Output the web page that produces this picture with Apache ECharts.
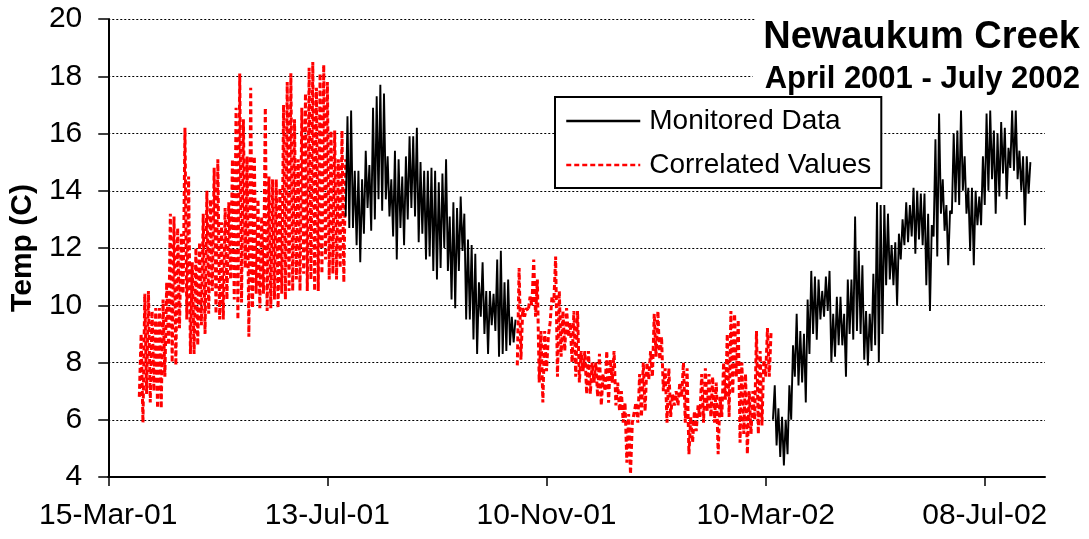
<!DOCTYPE html>
<html>
<head>
<meta charset="utf-8">
<script src="https://cdn.jsdelivr.net/npm/echarts@6/dist/echarts.min.js"></script>
<style>html,body{margin:0;padding:0;background:#fff}#c{width:1089px;height:539px}</style>
</head>
<body>
<div id="c"></div>
<script>
// ---------- data ----------
const xTickLabels = ['15-Mar-01', '13-Jul-01', '10-Nov-01', '10-Mar-02', '08-Jul-02'];
const xAxisEnd = '10-Aug-02';
const yMin = 4, yMax = 20, yStep = 2;
const STEP_DAYS = 2; // one low/high pair read every 2 days

// Correlated values, 1 Apr 2001 - 23 Jul 2001
const correlated1Start = '01-Apr-01';
const correlated1High = [9.0, 10.4, 10.5, 9.8, 9.9, 9.9, 10.2, 10.8, 13.2, 13.1,
  12.7, 12.5, 16.2, 14.5, 11.5, 12.0, 12.2, 13.2, 14.0, 13.7,
  14.8, 15.1, 12.9, 13.4, 13.6, 15.1, 16.9, 18.1, 16.5, 15.2,
  17.6, 15.2, 13.7, 13.1, 16.9, 14.5, 14.4, 14.4, 14.1, 17.0,
  17.8, 18.1, 16.5, 15.1, 16.9, 17.4, 18.3, 18.5, 17.6, 18.1,
  18.4, 17.8, 16.1, 16.1, 15.1, 16.1, 15.1];
const correlated1Low = [6.8, 5.9, 6.9, 6.6, 7.0, 6.4, 6.4, 7.5, 8.6, 8.0,
  7.9, 9.2, 10.4, 9.5, 8.3, 8.3, 8.6, 9.3, 9.0, 9.7,
  10.5, 9.7, 9.5, 9.5, 10.2, 10.9, 10.2, 9.5, 10.1, 11.3,
  8.9, 9.9, 10.4, 9.9, 10.4, 9.8, 9.9, 10.2, 9.9, 10.4,
  10.2, 10.5, 10.5, 10.9, 10.5, 11.1, 10.5, 10.9, 10.5, 10.5,
  11.1, 11.6, 10.9, 11.1, 10.9, 11.3, 10.8];

// Monitored data, 23 Jul 2001 - 23 Oct 2001
const monitored1Start = '23-Jul-01';
const monitored1High = [16.6, 16.8, 14.7, 14.7, 14.4, 15.4, 14.9, 16.9, 17.3, 17.7,
  17.4, 15.2, 14.4, 15.4, 15.1, 14.5, 15.2, 15.9, 15.9, 16.2,
  15.0, 14.7, 14.7, 14.8, 14.7, 14.3, 14.6, 15.1, 13.1, 13.6,
  13.4, 13.8, 13.2, 12.3, 12.1, 11.8, 10.8, 11.5, 10.5, 10.5,
  10.4, 11.6, 11.9, 10.8, 10.9, 9.6, 9.5];
const monitored1Low = [13.1, 12.7, 12.7, 12.1, 11.5, 12.5, 13.4, 12.6, 13.0, 13.7,
  13.3, 13.7, 13.1, 12.4, 11.6, 12.7, 12.1, 13.0, 13.4, 13.1,
  12.2, 12.5, 11.6, 11.7, 11.2, 10.9, 11.3, 12.0, 11.2, 10.2,
  9.9, 11.2, 11.9, 9.5, 9.5, 8.8, 8.3, 9.6, 9.0, 8.3,
  9.3, 9.1, 8.2, 8.3, 8.4, 8.6, 8.7];

// Correlated values, 25 Oct 2001 - 12 Mar 2002
const correlated2Start = '25-Oct-01';
const correlated2High = [11.3, 9.9, 9.9, 10.3, 11.6, 10.9, 9.1, 9.1, 8.9, 10.3,
  11.7, 10.5, 9.8, 9.9, 9.4, 9.8, 9.8, 8.4, 8.4, 8.4,
  8.0, 8.0, 8.3, 7.6, 8.4, 8.1, 8.4, 7.3, 7.0, 6.6,
  6.2, 5.9, 6.6, 7.6, 8.0, 8.0, 8.4, 9.7, 9.8, 8.9,
  7.8, 7.8, 6.9, 7.0, 7.3, 8.0, 7.8, 6.1, 6.3, 6.5,
  7.6, 7.8, 7.6, 7.5, 7.3, 6.8, 8.0, 9.0, 9.8, 9.7,
  9.5, 8.0, 7.6, 7.0, 7.0, 9.1, 8.4, 8.1, 9.2, 9.1];
const correlated2Low = [7.9, 8.1, 9.6, 9.8, 10.0, 9.6, 7.3, 6.6, 7.7, 9.4,
  10.1, 7.5, 8.2, 8.4, 8.9, 8.0, 7.5, 7.3, 7.7, 6.9,
  6.9, 7.3, 6.8, 6.5, 7.0, 6.6, 7.3, 6.5, 6.3, 5.9,
  4.5, 4.1, 5.9, 5.9, 6.1, 6.3, 7.4, 7.5, 8.2, 8.1,
  7.0, 5.9, 6.1, 6.5, 6.5, 6.8, 5.9, 4.8, 5.2, 5.6,
  6.1, 5.9, 6.3, 6.1, 5.9, 4.8, 6.1, 6.7, 6.1, 6.9,
  7.5, 5.2, 5.5, 4.8, 5.5, 6.0, 5.5, 5.8, 7.5, 7.5];

// Monitored data, 14 Mar 2002 - 1 Aug 2002
const monitored2Start = '14-Mar-02';
const monitored2High = [7.2, 6.4, 6.1, 6.0, 7.2, 8.6, 9.7, 9.1, 9.0, 10.2,
  11.2, 11.0, 10.9, 10.5, 11.0, 11.2, 9.7, 10.3, 10.3, 9.7,
  10.9, 10.9, 13.1, 11.9, 11.4, 9.8, 9.7, 11.1, 13.6, 13.5,
  13.5, 13.2, 12.1, 12.2, 12.5, 13.0, 13.6, 13.5, 14.1, 14.0,
  13.9, 13.9, 13.2, 12.8, 15.8, 16.7, 14.4, 13.5, 13.3, 16.0,
  16.1, 16.8, 15.2, 14.1, 14.1, 14.0, 13.8, 15.2, 16.7, 16.8,
  16.1, 16.0, 16.4, 16.2, 15.5, 16.8, 16.8, 15.4, 15.2, 15.2, 15.0];
const monitored2Low = [6.0, 5.1, 4.7, 4.4, 4.8, 6.0, 7.5, 7.2, 7.3, 6.6,
  8.3, 9.0, 8.8, 9.5, 9.6, 9.8, 8.0, 8.2, 8.6, 8.6,
  7.5, 9.0, 8.8, 9.1, 9.0, 8.1, 7.9, 8.4, 8.6, 8.0,
  9.0, 10.7, 10.9, 10.7, 10.0, 11.6, 12.1, 12.2, 12.4, 11.8,
  12.3, 12.1, 10.7, 9.8, 12.4, 11.7, 13.2, 12.6, 11.4, 13.2,
  13.6, 13.5, 14.0, 13.2, 11.9, 11.4, 12.8, 12.8, 13.5, 14.0,
  14.4, 13.2, 13.8, 14.6, 13.7, 14.8, 14.7, 14.4, 14.0, 12.8, 13.9];

const titleText = 'Newaukum Creek';
const subtitleText = 'April 2001 - July 2002';
const yAxisTitle = 'Temp (C)';
const seriesNames = ['Monitored Data', 'Correlated Values'];

// ---------- helpers ----------
const MONTHS = {Jan:0,Feb:1,Mar:2,Apr:3,May:4,Jun:5,Jul:6,Aug:7,Sep:8,Oct:9,Nov:10,Dec:11};
function parseDMY(s) { const p = s.split('-'); return Date.UTC(2000 + Number(p[2]), MONTHS[p[1]], Number(p[0])); }
const ORIGIN = parseDMY(xTickLabels[0]);
const toDay = s => Math.round((parseDMY(s) - ORIGIN) / 86400000);
function build(startStr, low, high) {
  const d0 = toDay(startStr);
  const pts = [];
  for (let i = 0; i < low.length; i++) {
    pts.push([d0 + i * STEP_DAYS, low[i]]);
    pts.push([d0 + i * STEP_DAYS + STEP_DAYS / 2, high[i]]);
  }
  return pts;
}
const tickDays = xTickLabels.map(toDay);
const labelOf = {};
tickDays.forEach((d, i) => { labelOf[d] = xTickLabels[i]; });

const FONT = '"Liberation Sans", Arial, Helvetica, sans-serif';
const black = { color: '#000000', width: 1.9 };
const red = { color: '#ff0000', width: 3, type: [5, 3] };

const chart = echarts.init(document.getElementById('c'), null, { renderer: 'canvas' });
chart.setOption({
  animation: false,
  backgroundColor: '#ffffff',
  textStyle: { fontFamily: FONT },
  grid: { left: 107, right: 44, top: 19, bottom: 62 },
  title: [
    {
      text: titleText,
      right: 5,
      top: 14,
      padding: [5, 4, 2, 8],
      backgroundColor: '#ffffff',
      z: 5,
      textStyle: { fontFamily: FONT, fontSize: 38, fontWeight: 'bold', color: '#000' }
    },
    {
      text: subtitleText,
      right: 5,
      top: 60,
      padding: [4, 4, 1, 12],
      backgroundColor: '#ffffff',
      z: 5,
      textStyle: { fontFamily: FONT, fontSize: 31, fontWeight: 'bold', color: '#000' }
    }
  ],
  legend: {
    data: seriesNames,
    orient: 'vertical',
    left: 555,
    top: 97,
    z: 10,
    itemWidth: 74,
    itemHeight: 14,
    itemGap: 8,
    padding: [6, 10, 5, 10],
    borderColor: '#000',
    borderWidth: 2,
    borderRadius: 0,
    backgroundColor: '#ffffff',
    selectedMode: false,
    itemStyle: { opacity: 0, borderWidth: 0 },
    lineStyle: { width: 2.5 },
    textStyle: { fontFamily: FONT, fontSize: 28, color: '#000', lineHeight: 36, padding: [0, 0, 0, 4] }
  },
  xAxis: {
    type: 'value',
    min: 0,
    max: toDay(xAxisEnd),
    interval: 120,
    axisLine: { show: true, onZero: false, lineStyle: { color: '#000', width: 2 } },
    axisTick: { show: true, length: 9, customValues: tickDays, lineStyle: { color: '#000', width: 1.5 } },
    axisLabel: { customValues: tickDays, formatter: v => labelOf[v] || '', fontSize: 30, color: '#000', margin: 24, fontFamily: FONT },
    splitLine: { show: false }
  },
  yAxis: {
    type: 'value',
    min: yMin,
    max: yMax,
    interval: yStep,
    name: yAxisTitle,
    nameLocation: 'middle',
    nameGap: 58,
    nameTextStyle: { fontFamily: FONT, fontSize: 30, fontWeight: 'bold', color: '#000' },
    axisLine: { show: true, lineStyle: { color: '#000', width: 2 } },
    axisTick: { show: true, length: 10, lineStyle: { color: '#000', width: 1.5 } },
    axisLabel: { fontSize: 30, color: '#000', margin: 26, fontFamily: FONT },
    splitLine: { show: true, lineStyle: { color: '#000', width: 1, type: [2, 2] } }
  },
  series: [
    { name: seriesNames[1], type: 'line', symbol: 'none', data: build(correlated1Start, correlated1Low, correlated1High), lineStyle: red, itemStyle: { color: '#ff0000' }, z: 2 },
    { name: seriesNames[1], type: 'line', symbol: 'none', data: build(correlated2Start, correlated2Low, correlated2High), lineStyle: red, itemStyle: { color: '#ff0000' }, z: 2 },
    { name: seriesNames[0], type: 'line', symbol: 'none', data: build(monitored1Start, monitored1Low, monitored1High), lineStyle: black, itemStyle: { color: '#000' }, z: 3 },
    { name: seriesNames[0], type: 'line', symbol: 'none', data: build(monitored2Start, monitored2Low, monitored2High), lineStyle: black, itemStyle: { color: '#000' }, z: 3 }
  ]
});
</script>
</body>
</html>
